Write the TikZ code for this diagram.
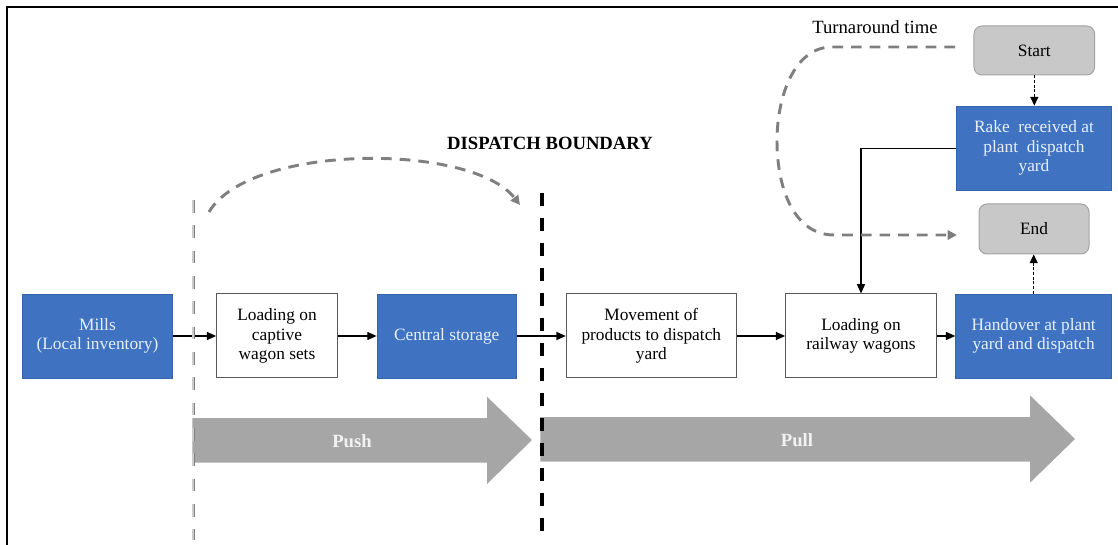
\documentclass[tikz,border=0pt]{standalone}
\usepackage{fontspec}
\setmainfont{Liberation Serif}
\usetikzlibrary{arrows.meta}
\definecolor{boxblue}{HTML}{3F73C1}
\definecolor{boxblueline}{HTML}{3464AC}
\definecolor{boxtext}{HTML}{E8EFFA}
\definecolor{bigarrow}{HTML}{A6A6A6}
\definecolor{dashgray}{HTML}{7F7F7F}
\definecolor{startgray}{HTML}{C8C8C8}
\definecolor{startline}{HTML}{A3A3A3}
\begin{document}
\begin{tikzpicture}[x=0.75pt,y=-0.75pt,
  every node/.style={font=\rmfamily\fontsize{13}{14.6}\selectfont, align=center, inner sep=0pt},
  bluebox/.style={draw=boxblueline, fill=boxblue, text=boxtext, line width=0.6pt, minimum height=63pt},
  whitebox/.style={draw=black!65, fill=white, line width=0.75pt, minimum height=63pt},
  graybox/.style={draw=startline, fill=startgray, rounded corners=6pt, line width=0.75pt},
  flow/.style={line width=1pt, -{Triangle[length=7pt,width=6pt]}},
  thindash/.style={line width=0.75pt, dash pattern=on 2.2pt off 1.3pt, -{Triangle[length=6.5pt,width=6pt]}},
  loopdash/.style={draw=dashgray, line width=2.2pt, dash pattern=on 8pt off 6pt, -{Triangle[length=7pt,width=7pt]}},
  bigtext/.style={font=\rmfamily\bfseries\fontsize{14}{16}\selectfont, text=white!95!black},
  lbl/.style={font=\rmfamily\fontsize{14}{16}\selectfont}
]
\useasboundingbox (0,0) rectangle (1118,545);
% frame
\draw[line width=1.1pt] (7,545) -- (7,7) -- (1118,7);

% big arrows
\fill[bigarrow] (192.3,418) -- (487,418) -- (487,396.7) -- (532,440) -- (487,484) -- (487,462.7) -- (192.3,462.7) -- cycle;
\fill[bigarrow] (540.3,417) -- (1030,417) -- (1030,395.3) -- (1075,439) -- (1030,482.7) -- (1030,461.5) -- (540.3,461.5) -- cycle;
\node[bigtext] (push) at (352,441) {Push};
\node[bigtext] (pull) at (797,440) {Pull};

% boxes
\node[bluebox, minimum width=112.2pt] (mills) at (97.5,336) {Mills\\(Local inventory)};
\node[whitebox, minimum width=90.5pt] (capt) at (277,336) {Loading on\\captive\\wagon sets};
\node[bluebox, minimum width=104.5pt] (cent) at (446.7,336) {Central storage};
\node[whitebox, minimum width=127.5pt] (move) at (651.3,336) {Movement of\\products to dispatch\\yard};
\node[whitebox, minimum width=113pt] (rail) at (861,336) {Loading on\\railway wagons};
\node[bluebox, minimum width=117pt] (hand) at (1033.7,336) {Handover at plant\\yard and dispatch};
\node[graybox, minimum width=90.5pt, minimum height=36.75pt] (start) at (1034.3,50.5) {Start};
\node[bluebox, minimum width=116.5pt, minimum height=63.5pt] (rake) at (1034,148.3) {Rake\ \ received at\\plant\ \ dispatch\\yard};
\node[graybox, minimum width=82.5pt, minimum height=37.5pt] (end) at (1034,229) {End};

% labels
\node[lbl, font=\rmfamily\bfseries\fontsize{14}{16}\selectfont] (db) at (550,143.5) {DISPATCH BOUNDARY};
\node[lbl] (tat) at (875,27) {Turnaround time};

% flow connectors
\draw[flow] (mills) -- (capt);
\draw[flow] (capt) -- (cent);
\draw[flow] (cent) -- (move);
\draw[flow] (move) -- (rail);
\draw[flow] (rail) -- (hand);
\draw[flow] (rake.west) -| (rail.north);
\draw[thindash] (start.south) -- (start.south |- rake.north);
\draw[thindash] (hand.north) -- (hand.north |- end.south);

% dashed boundaries
\coordinate (g1) at (193.3,200);
\coordinate (g2) at (193.3,540);
\draw[draw=black!50, double=black!20, double distance=1.4pt, line width=0.55pt, dash pattern=on 9.5pt off 9.5pt] (g1) -- (g2);
\coordinate (b1) at (542,193);
\coordinate (b2) at (542,533);
\draw[black, line width=2.4pt, dash pattern=on 9.75pt off 9pt] (b1) -- (b2);

% push curve
\coordinate (p1) at (209,212);
\coordinate (p2) at (520,205);
\draw[loopdash] (p1) .. controls (250,143) and (472,143) .. (p2);

% turnaround loop
\coordinate (t1) at (955,47);
\coordinate (t2) at (957,235);
\draw[loopdash] (t1) -- (832,47) .. controls (795,47) and (777,95) .. (777,141) .. controls (777,190) and (795,235) .. (834,235) -- (t2);
\end{tikzpicture}
\end{document}
